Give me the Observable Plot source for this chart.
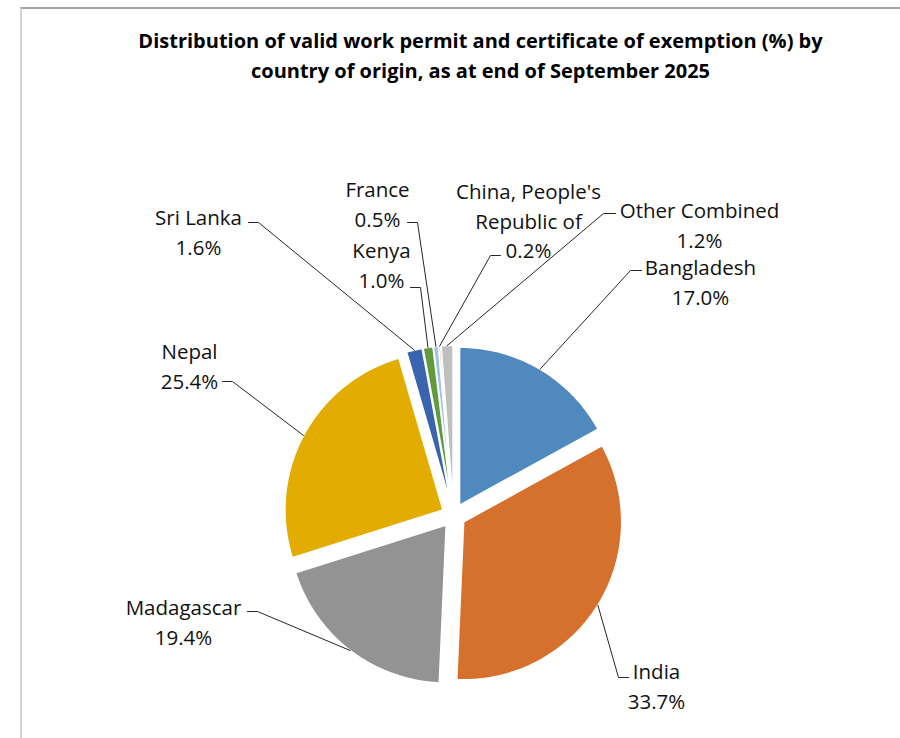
<!DOCTYPE html>
<html>
<head>
<meta charset="utf-8">
<script src="https://cdn.jsdelivr.net/npm/d3@7"></script>
<script src="https://cdn.jsdelivr.net/npm/@observablehq/plot@0.6"></script>
<style>
  html, body { margin: 0; padding: 0; background: white; }
  #wrap { position: relative; width: 900px; height: 738px; overflow: hidden; }
  #frame { position: absolute; left: 20px; top: 7px; right: -5px; bottom: -5px;
           border-top: 2px solid #a6a6a6; border-left: 2px solid #d4d4d4; pointer-events: none; z-index: 2; }
  #chart svg { display: block; }
</style>
</head>
<body>
<div id="wrap"><div id="frame"></div><div id="chart"></div></div>
<script>
// ---- data ----
const countries = ["Bangladesh", "India", "Madagascar", "Nepal", "Sri Lanka", "Kenya", "France", "China, People's Republic of", "Other Combined"];
const shares = [17.0, 33.7, 19.4, 25.4, 1.6, 1.0, 0.5, 0.2, 1.2];
const labelNames = ["Bangladesh", "India", "Madagascar", "Nepal", "Sri Lanka", "Kenya", "France", "China, People's\nRepublic of", "Other Combined"];
const colors = ["#4f89bd", "#d5702d", "#939393", "#e3ac00", "#3a64ad", "#629a3e", "#9dc3e6", "#f4b183", "#bfbfbf"];
const titleText = "Distribution of valid work permit and certificate of exemption (%) by\ncountry of origin, as at end of September 2025";

// ---- layout (pixel space) ----
const W = 900, H = 738;
const cx = 453, cy = 515, R = 158, explode = 12;
// label block centre and leader start/elbow points
const labelLayout = [
  {x: 700, y: 280, sx: 641, sy: 270, ex: 630, ey: 270},
  {x: 656, y: 684, sx: 628, sy: 677, ex: 618, ey: 677},
  {x: 183, y: 620, sx: 247, sy: 611, ex: 257, ey: 611},
  {x: 189, y: 364, sx: 222, sy: 381, ex: 232, ey: 381},
  {x: 198, y: 230, sx: 248, sy: 222, ex: 258, ey: 222},
  {x: 381, y: 263, sx: 410, sy: 287, ex: 420, ey: 287},
  {x: 377, y: 202, sx: 407, sy: 222, ex: 417, ey: 222},
  {x: 528, y: 219, sx: 500, sy: 255, ex: 490, ey: 255},
  {x: 699, y: 223, sx: 615, sy: 213, ex: 603, ey: 213}
];

const arcs = d3.pie().sort(null).value(d => d)(shares);
const polyPts = [];
const leaderPts = [];
const labels = [];
arcs.forEach((a, i) => {
  const mid = (a.startAngle + a.endAngle) / 2;
  const ox = cx + explode * Math.sin(mid), oy = cy - explode * Math.cos(mid);
  const name = countries[i];
  polyPts.push({name, x: ox, y: oy});
  const n = Math.max(2, Math.ceil((a.endAngle - a.startAngle) / 0.02));
  for (let k = 0; k <= n; k++) {
    const t = a.startAngle + (a.endAngle - a.startAngle) * k / n;
    polyPts.push({name, x: ox + R * Math.sin(t), y: oy - R * Math.cos(t)});
  }
  polyPts.push({name, x: ox, y: oy});
  const L = labelLayout[i];
  leaderPts.push({name, x: L.sx, y: L.sy});
  leaderPts.push({name, x: L.ex, y: L.ey});
  leaderPts.push({name, x: cx + (R + explode) * Math.sin(mid), y: cy - (R + explode) * Math.cos(mid)});
  labels.push({name, x: L.x, y: L.y, text: labelNames[i] + "\n" + d3.format(".1f")(shares[i]) + "%"});
});

const FONT = "'Open Sans', Lato, sans-serif";
const chart = Plot.plot({
  width: W, height: H,
  margin: 0,
  style: {background: "transparent", fontFamily: FONT},
  x: {domain: [0, W], range: [0, W], axis: null},
  y: {domain: [0, H], range: [0, H], axis: null},
  color: {domain: countries, range: colors},
  marks: [
    Plot.line(polyPts, {x: "x", y: "y", z: "name", fill: "name", stroke: "white", strokeWidth: 1.5, strokeLinejoin: "round", curve: "linear"}),
    Plot.line(leaderPts, {x: "x", y: "y", z: "name", stroke: "#262626", strokeWidth: 1, curve: "linear"}),
    Plot.text(labels, {x: "x", y: "y", text: "text", fontSize: 20.5, lineHeight: 1.44, fill: "#111", textAnchor: "middle", lineAnchor: "middle"}),
    Plot.text([titleText], {frameAnchor: "top", dx: 30, dy: 26, text: d => d, fontSize: 20, fontWeight: "bold", lineHeight: 1.5, fill: "#000", lineAnchor: "top"})
  ]
});
document.getElementById("chart").appendChild(chart);
</script>
</body>
</html>
